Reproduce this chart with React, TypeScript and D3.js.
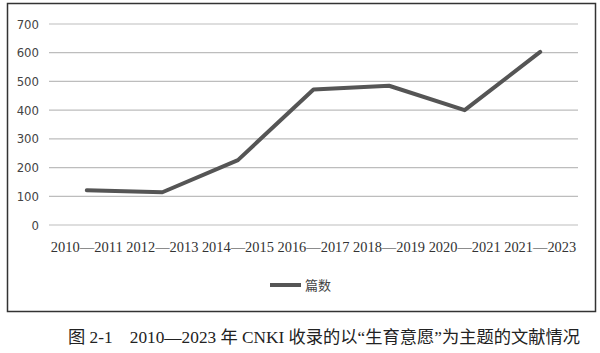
import React from "react";
import * as d3 from "d3";

const categories = ["2010—2011", "2012—2013", "2014—2015", "2016—2017", "2018—2019", "2020—2021", "2021—2023"];
const counts = [121, 114, 226, 472, 485, 400, 603];
const yTicks = [0, 100, 200, 300, 400, 500, 600, 700];
const seriesName = "篇数";
const caption = "图 2-1    2010—2023 年 CNKI 收录的以“生育意愿”为主题的文献情况";

export default function App() {
  const W = 600, H = 353;
  const left = 49, right = 578, top = 24, bottom = 225;
  const x = d3.scaleBand<string>().domain(categories).range([left, right]);
  const y = d3.scaleLinear().domain([0, 700]).range([bottom, top]);
  const line = d3.line<number>()
    .x((_, i) => (x(categories[i]) as number) + x.bandwidth() / 2)
    .y((d) => y(d));
  return (
    <svg width={W} height={H} style={{ position: "absolute", left: 0, top: 0, background: "#fff" }}>
      <rect x={0} y={0} width={W} height={H} fill="#fff" />
      <rect x={7.5} y={3.5} width={588} height={308} fill="#fff" stroke="#333" strokeWidth={1.5} />
      {yTicks.map((t) => (
        <g key={t}>
          <line x1={left} x2={right} y1={y(t)} y2={y(t)} stroke="#bdbdbd" strokeWidth={1.2} />
          <text x={39} y={y(t)} dy="0.35em" textAnchor="end" fontSize={13} fill="#444"
            fontFamily="'DejaVu Sans Condensed', 'Liberation Sans', sans-serif">{t}</text>
        </g>
      ))}
      {categories.map((c) => (
        <text key={c} x={(x(c) as number) + x.bandwidth() / 2} y={247} dy="0.35em" textAnchor="middle"
          fontSize={14} fill="#333" fontFamily="'Liberation Serif', serif" textLength={72} lengthAdjust="spacingAndGlyphs">{c}</text>
      ))}
      <path d={line(counts) || ""} fill="none" stroke="#555" strokeWidth={4} strokeLinejoin="round" strokeLinecap="round" />
      <line x1={270} x2={301} y1={285} y2={285} stroke="#555" strokeWidth={4} />
      <text x={305} y={285} dy="0.35em" fontSize={13} fill="#444" fontFamily="'Noto Sans CJK SC', sans-serif">{seriesName}</text>
      <text x={68} y={337} dy="0.35em" fontSize={17} fill="#222" textLength={512} lengthAdjust="spacingAndGlyphs"
        fontFamily="'Liberation Serif', 'Noto Sans CJK SC', serif" style={{ whiteSpace: "pre" }}>{caption}</text>
    </svg>
  );
}
